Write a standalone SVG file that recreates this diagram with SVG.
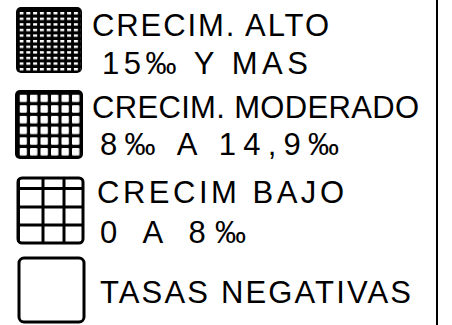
<svg xmlns="http://www.w3.org/2000/svg" width="452" height="325" viewBox="0 0 452 325">
<style>
.t{font-family:"Liberation Sans",Arial,sans-serif;font-size:31px;fill:#000}
.box{fill:#fff;stroke:#000;stroke-width:3}
.ln{stroke:#000;stroke-width:3}
</style>
<defs>
<pattern id="dense" patternUnits="userSpaceOnUse" x="19.5" y="12" width="6.8" height="5.6">
<rect x="0" y="0" width="4" height="2.4" fill="#fff"/>
</pattern>
<pattern id="mid" patternUnits="userSpaceOnUse" x="19.5" y="94.5" width="10.5" height="10.7">
<rect x="0" y="0" width="7.4" height="7.6" rx="1" fill="#fff"/>
</pattern>
</defs>
<rect width="452" height="325" fill="#fff"/>
<g id="frame"><line x1="437" y1="0" x2="437" y2="325" stroke="#000" stroke-width="2"/></g>
<g id="alto">
<rect x="16" y="7" width="66" height="66" rx="5" fill="#000"/>
<rect x="19.5" y="12" width="61" height="59" fill="url(#dense)"/>
<text class="t" x="92" y="36" textLength="237" lengthAdjust="spacing">CRECIM. ALTO</text>
<text class="t" x="102" y="74" textLength="206" lengthAdjust="spacing">15‰ Y MAS</text>
</g>
<g id="moderado">
<rect x="15" y="90" width="68" height="69" rx="5" fill="#000"/>
<rect x="19.5" y="94.5" width="62" height="63" fill="url(#mid)"/>
<text class="t" x="92" y="118" textLength="327" lengthAdjust="spacing">CRECIM. MODERADO</text>
<text class="t" x="100" y="155" textLength="239" lengthAdjust="spacing">8‰ A 14,9‰</text>
</g>
<g id="bajo">
<rect class="box" x="18" y="178" width="65" height="65" rx="4"/>
<line class="ln" x1="18.5" y1="179" x2="18.5" y2="242" stroke-width="4"/>
<line class="ln" x1="43" y1="178" x2="43" y2="243"/>
<line class="ln" x1="64" y1="178" x2="64" y2="243"/>
<line class="ln" x1="18" y1="188.5" x2="83" y2="188.5"/>
<line class="ln" x1="18" y1="207" x2="83" y2="207"/>
<line class="ln" x1="18" y1="225" x2="83" y2="225"/>
<text class="t" x="97" y="203" textLength="247" lengthAdjust="spacing">CRECIM BAJO</text>
<text class="t" x="100" y="243" textLength="146" lengthAdjust="spacing">0 A 8‰</text>
</g>
<g id="negativas">
<rect class="box" x="19" y="258" width="65" height="64" rx="5" stroke-width="2.5"/>
<text class="t" x="100" y="303" textLength="311" lengthAdjust="spacing">TASAS NEGATIVAS</text>
</g>
</svg>
